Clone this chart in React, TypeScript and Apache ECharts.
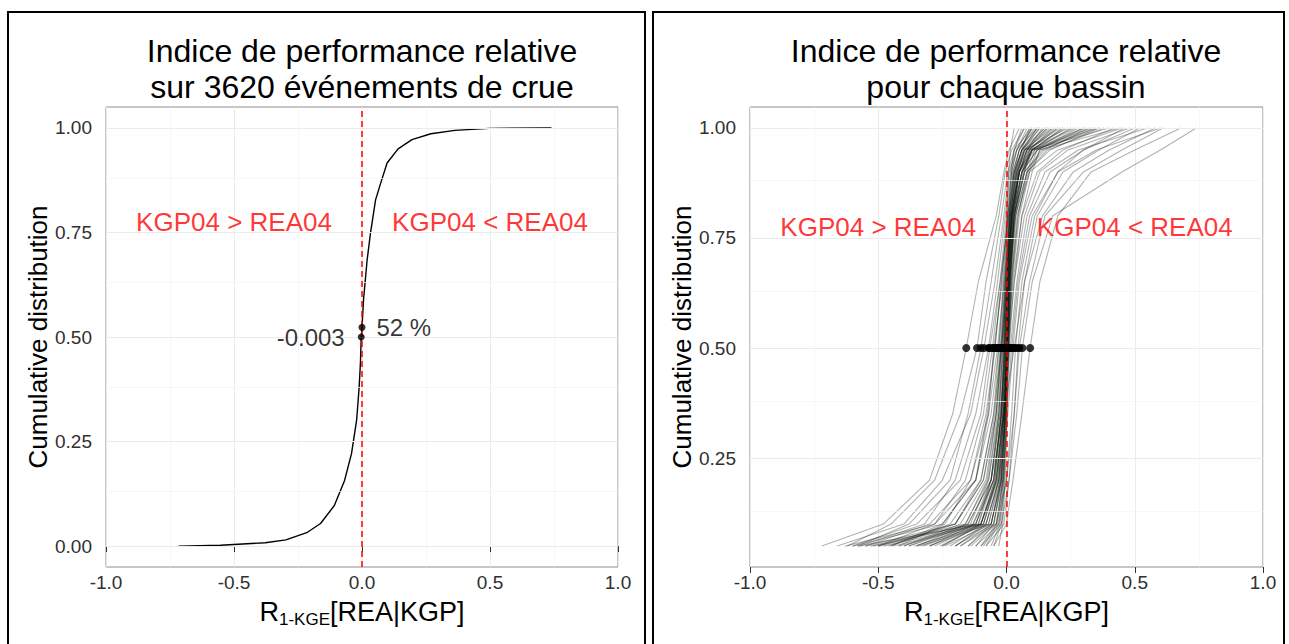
import React, { useEffect, useRef } from "react";
import * as echarts from "echarts";

const FONT = "'Liberation Sans', Arial, Helvetica, sans-serif";

// Titles and labels
const TITLE_LEFT = "Indice de performance relative\nsur 3620 événements de crue";
const TITLE_RIGHT = "Indice de performance relative\npour chaque bassin";
const Y_NAME = "Cumulative distribution";
const LABEL_LEFT_SIDE = "KGP04 > REA04";
const LABEL_RIGHT_SIDE = "KGP04 < REA04";

// Axis ticks
const LEFT_Y_TICKS = [0, 0.25, 0.5, 0.75, 1];
const RIGHT_Y_TICKS = [0.25, 0.5, 0.75, 1];
const Y_MINOR = [0.125, 0.375, 0.625, 0.875];

// Left panel: ECDF over all 3620 events
const ECDF_X = [-0.717, -0.553, -0.378, -0.297, -0.216, -0.162, -0.108, -0.068, -0.041, -0.021, -0.011, -0.006, -0.003, 0.0, 0.006, 0.02, 0.033, 0.053, 0.073, 0.098, 0.141, 0.195, 0.269, 0.363, 0.498, 0.74];
const ECDF_Y = [0.0, 0.002, 0.008, 0.015, 0.032, 0.054, 0.097, 0.157, 0.221, 0.301, 0.381, 0.44, 0.5, 0.523, 0.589, 0.684, 0.748, 0.828, 0.868, 0.916, 0.95, 0.972, 0.986, 0.994, 0.999, 1.0];
const MEDIAN_ALL = -0.003;
const SHARE_AT_ZERO = 0.523;

// Right panel: per-basin ECDFs, x values at these cumulative levels
const Y_LEVELS = [0.05, 0.1, 0.2, 0.35, 0.5, 0.65, 0.8, 0.9, 0.95, 1.0];
const BASINS: number[][] = [
  [-0.12, -0.05, -0.02, -0.008, 0.0, 0.008, 0.02, 0.04, 0.07, 0.15],
  [-0.2, -0.07, -0.03, -0.012, -0.003, 0.005, 0.015, 0.03, 0.06, 0.12],
  [-0.08, -0.03, -0.012, -0.004, 0.002, 0.01, 0.025, 0.05, 0.09, 0.2],
  [-0.3, -0.1, -0.04, -0.015, -0.006, 0.003, 0.012, 0.025, 0.05, 0.1],
  [-0.05, -0.02, -0.008, 0.0, 0.006, 0.014, 0.03, 0.06, 0.12, 0.28],
  [-0.15, -0.06, -0.025, -0.01, 0.001, 0.012, 0.03, 0.07, 0.14, 0.34],
  [-0.25, -0.09, -0.035, -0.015, -0.004, 0.006, 0.02, 0.045, 0.1, 0.22],
  [-0.1, -0.04, -0.015, -0.005, 0.004, 0.015, 0.035, 0.08, 0.16, 0.38],
  [-0.35, -0.12, -0.05, -0.02, -0.008, 0.002, 0.015, 0.035, 0.07, 0.16],
  [-0.06, -0.025, -0.01, -0.002, 0.003, 0.009, 0.018, 0.035, 0.06, 0.09],
  [-0.18, -0.06, -0.02, -0.006, 0.002, 0.01, 0.022, 0.05, 0.11, 0.25],
  [-0.4, -0.15, -0.06, -0.025, -0.01, 0.0, 0.01, 0.03, 0.06, 0.13],
  [-0.03, -0.015, -0.005, 0.002, 0.008, 0.018, 0.04, 0.09, 0.2, 0.45],
  [-0.22, -0.08, -0.03, -0.01, 0.0, 0.01, 0.025, 0.06, 0.12, 0.3],
  [-0.45, -0.22, -0.1, -0.05, -0.02, 0.005, 0.03, 0.07, 0.15, 0.32],
  [-0.55, -0.3, -0.14, -0.07, -0.035, -0.01, 0.015, 0.05, 0.1, 0.22],
  [-0.3, -0.12, -0.06, -0.025, 0.0, 0.025, 0.06, 0.12, 0.22, 0.42],
  [-0.6, -0.35, -0.18, -0.1, -0.065, -0.025, 0.01, 0.03, 0.06, 0.12],
  [-0.25, -0.1, -0.04, -0.01, 0.015, 0.04, 0.08, 0.15, 0.28, 0.55],
  [-0.5, -0.2, -0.09, -0.045, -0.025, -0.005, 0.02, 0.05, 0.09, 0.18],
  [-0.38, -0.16, -0.07, -0.03, -0.012, 0.008, 0.035, 0.08, 0.17, 0.36],
  [-0.15, -0.05, -0.015, 0.005, 0.025, 0.05, 0.1, 0.2, 0.35, 0.6],
  [-0.63, -0.28, -0.12, -0.06, -0.03, -0.008, 0.012, 0.04, 0.08, 0.16],
  [-0.2, -0.08, -0.03, 0.0, 0.02, 0.045, 0.09, 0.17, 0.3, 0.5],
  [-0.45, -0.25, -0.12, -0.07, -0.05, -0.015, 0.005, 0.02, 0.04, 0.08],
  [-0.33, -0.13, -0.05, -0.02, 0.005, 0.03, 0.07, 0.13, 0.24, 0.48],
  [-0.72, -0.48, -0.3, -0.21, -0.157, -0.11, -0.04, -0.01, 0.01, 0.05],
  [-0.62, -0.45, -0.28, -0.18, -0.115, -0.08, -0.03, -0.005, 0.02, 0.07],
  [-0.58, -0.38, -0.22, -0.15, -0.1, -0.06, -0.02, 0.005, 0.03, 0.1],
  [-0.66, -0.4, -0.25, -0.14, -0.088, -0.045, -0.01, 0.01, 0.04, 0.12],
  [-0.1, -0.02, 0.01, 0.04, 0.062, 0.1, 0.18, 0.45, 0.6, 0.74],
  [-0.05, 0.0, 0.025, 0.06, 0.092, 0.13, 0.2, 0.33, 0.5, 0.68],
  [-0.12, -0.03, 0.0, 0.03, 0.05, 0.09, 0.15, 0.3, 0.45, 0.61],
  [-0.35, -0.15, -0.06, -0.01, 0.03, 0.07, 0.14, 0.26, 0.4, 0.58],
  [-0.28, -0.1, -0.045, -0.02, -0.01, -0.004, 0.002, 0.008, 0.015, 0.03],
  [-0.09, -0.035, -0.015, -0.006, -0.001, 0.004, 0.01, 0.018, 0.03, 0.06],
  [-0.52, -0.12, -0.05, -0.02, -0.006, 0.006, 0.025, 0.06, 0.1, 0.3],
  [-0.42, -0.09, -0.04, -0.015, -0.002, 0.01, 0.03, 0.07, 0.09, 0.26],
  [-0.58, -0.11, -0.06, -0.03, -0.015, 0.0, 0.02, 0.05, 0.08, 0.2],
  [-0.36, -0.08, -0.03, -0.01, 0.004, 0.018, 0.045, 0.08, 0.11, 0.35],
  [-0.48, -0.1, -0.045, -0.02, -0.008, 0.004, 0.02, 0.045, 0.07, 0.24],
  [-0.3, -0.07, -0.025, -0.008, 0.003, 0.014, 0.035, 0.07, 0.1, 0.4],
  [-0.55, -0.2, -0.1, -0.05, -0.03, -0.012, 0.008, 0.035, 0.06, 0.15],
  [-0.4, -0.18, -0.08, -0.04, -0.02, 0.0, 0.02, 0.05, 0.085, 0.19],
  [-0.26, -0.09, -0.04, -0.012, 0.01, 0.03, 0.06, 0.1, 0.13, 0.44],
  [-0.6, -0.25, -0.12, -0.075, -0.045, -0.02, 0.004, 0.03, 0.05, 0.1],
  [-0.5, -0.14, -0.07, -0.035, -0.018, -0.004, 0.015, 0.04, 0.075, 0.17],
  [-0.34, -0.06, -0.02, -0.004, 0.006, 0.016, 0.03, 0.06, 0.095, 0.27],
  [-0.44, -0.1, -0.035, -0.012, 0.0, 0.012, 0.03, 0.065, 0.1, 0.33],
  [-0.2, -0.05, -0.02, -0.006, 0.004, 0.012, 0.028, 0.05, 0.08, 0.14],
  [-0.38, -0.13, -0.06, -0.03, -0.015, 0.002, 0.02, 0.045, 0.07, 0.18],
  [-0.14, -0.04, -0.012, 0.0, 0.01, 0.022, 0.05, 0.09, 0.13, 0.36],
  [-0.46, -0.2, -0.09, -0.04, -0.02, -0.002, 0.022, 0.06, 0.1, 0.23],
  [-0.32, -0.11, -0.05, -0.022, -0.007, 0.006, 0.024, 0.05, 0.08, 0.21],
  [-0.53, -0.16, -0.075, -0.04, -0.022, -0.006, 0.014, 0.04, 0.065, 0.13],
  [-0.24, -0.06, -0.022, -0.005, 0.007, 0.02, 0.045, 0.085, 0.12, 0.31],
  [-0.57, -0.32, -0.2, -0.12, -0.07, -0.035, -0.005, 0.015, 0.03, 0.07],
  [-0.5, -0.28, -0.16, -0.09, -0.055, -0.025, 0.0, 0.02, 0.04, 0.09],
  [-0.42, -0.24, -0.14, -0.08, -0.045, -0.02, 0.005, 0.025, 0.05, 0.11],
  [-0.08, -0.01, 0.01, 0.03, 0.045, 0.07, 0.12, 0.22, 0.36, 0.52],
  [-0.18, -0.04, 0.0, 0.02, 0.035, 0.06, 0.11, 0.2, 0.3, 0.46],
];
const MEDIAN_LEVEL = 0.5;

const TEXT_COLOR = "#303030";

function makeXAxis(gridIndex: number) {
  return {
    type: "value",
    gridIndex,
    min: -1,
    max: 1,
    interval: 0.5,
    axisLine: { show: false },
    axisTick: { show: true, length: 6, lineStyle: { color: TEXT_COLOR, width: 1 } },
    axisLabel: {
      show: true,
      margin: 6,
      color: TEXT_COLOR,
      fontSize: 19,
      fontFamily: FONT,
      formatter: (v: number) => v.toFixed(1),
    },
    splitLine: { show: true, lineStyle: { color: "#ebebeb", width: 1 } },
    minorTick: { show: false, splitNumber: 2 },
    minorSplitLine: { show: true, lineStyle: { color: "#f4f4f4", width: 0.7 } },
    name: "{m|R}{s|1-KGE}{m|[REA|KGP]}",
    nameLocation: "middle",
    nameGap: 28,
    nameTextStyle: {
      rich: {
        m: { fontSize: 27, fontFamily: FONT, color: "#000", lineHeight: 31, verticalAlign: "middle" },
        s: { fontSize: 17, fontFamily: FONT, color: "#000", lineHeight: 17, padding: [14, 0, 0, 0], verticalAlign: "middle" },
      },
    },
  };
}

function makeYAxis(gridIndex: number, min: number, max: number, ticks: number[]) {
  return {
    type: "value",
    gridIndex,
    min,
    max,
    axisLine: { show: false },
    axisTick: { show: true, length: 6, customValues: ticks, lineStyle: { color: TEXT_COLOR, width: 1 } },
    axisLabel: {
      show: true,
      customValues: ticks,
      margin: 14,
      color: TEXT_COLOR,
      fontSize: 19,
      fontFamily: FONT,
      formatter: (v: number) => v.toFixed(2),
    },
    splitLine: { show: false },
    name: Y_NAME,
    nameLocation: "middle",
    nameRotate: 90,
    nameGap: 55,
    nameTextStyle: { fontSize: 26, fontFamily: FONT, color: "#000" },
  };
}

function gridLineSeries(idx: number, majors: number[]) {
  return {
    type: "line",
    xAxisIndex: idx,
    yAxisIndex: idx,
    data: [],
    z: 1,
    silent: true,
    markLine: {
      silent: true,
      symbol: ["none", "none"],
      label: { show: false },
      animation: false,
      data: [
        ...Y_MINOR.map((v) => ({ yAxis: v, lineStyle: { color: "#f4f4f4", width: 0.7, type: "solid" } })),
        ...majors.map((v) => ({ yAxis: v, lineStyle: { color: "#ebebeb", width: 1, type: "solid" } })),
      ],
    },
  };
}

function zeroLineSeries(idx: number) {
  return {
    type: "line",
    xAxisIndex: idx,
    yAxisIndex: idx,
    data: [],
    z: 4,
    silent: true,
    markLine: {
      silent: true,
      symbol: ["none", "none"],
      label: { show: false },
      animation: false,
      data: [{ xAxis: 0, lineStyle: { color: "#ff0000", width: 1.5, type: [6, 4] } }],
    },
  };
}

function sideLabelSeries(idx: number) {
  const lab = (fmt: string) => ({
    show: true,
    position: "inside",
    formatter: fmt,
    color: "#ff0000",
    fontSize: 26,
    fontFamily: FONT,
  });
  return {
    type: "scatter",
    xAxisIndex: idx,
    yAxisIndex: idx,
    symbolSize: 0,
    z: 6,
    silent: true,
    data: [
      { value: [-0.5, 0.775], label: lab(LABEL_LEFT_SIDE) },
      { value: [0.5, 0.775], label: lab(LABEL_RIGHT_SIDE) },
    ],
  };
}

export default function App() {
  const ref = useRef<HTMLDivElement>(null);

  useEffect(() => {
    if (!ref.current) return;
    const chart = echarts.init(ref.current, null, { renderer: "svg" });

    const ecdfData = ECDF_X.map((x, i) => [x, ECDF_Y[i]]);
    const medianIdx = Y_LEVELS.indexOf(MEDIAN_LEVEL);
    const basinSeries = BASINS.map((b) => ({
      type: "line",
      xAxisIndex: 1,
      yAxisIndex: 1,
      data: b.map((x, i) => [x, Y_LEVELS[i]]),
      showSymbol: false,
      symbol: "none",
      silent: true,
      z: 2,
      lineStyle: { color: "rgba(10, 20, 10, 0.32)", width: 1.1 },
    }));
    const medianDots = BASINS.map((b) => [b[medianIdx], MEDIAN_LEVEL]);

    const option: any = {
      animation: false,
      backgroundColor: "#ffffff",
      grid: [
        { left: 106, right: 671, top: 107, bottom: 77, show: true, borderColor: "#8c8c8c", borderWidth: 1, backgroundColor: "#fff" },
        { left: 750, right: 26, top: 107, bottom: 77, show: true, borderColor: "#8c8c8c", borderWidth: 1, backgroundColor: "#fff" },
      ],
      xAxis: [makeXAxis(0), makeXAxis(1)],
      yAxis: [makeYAxis(0, -0.05, 1.05, LEFT_Y_TICKS), makeYAxis(1, 0.0025, 1.0475, RIGHT_Y_TICKS)],
      graphic: [
        { type: "rect", shape: { x: 8, y: 12, width: 637, height: 660 }, style: { fill: "none", stroke: "#000", lineWidth: 2 }, z: 100 },
        { type: "rect", shape: { x: 653, y: 12, width: 631, height: 660 }, style: { fill: "none", stroke: "#000", lineWidth: 2 }, z: 100 },
        { type: "text", x: 362, y: 33, style: { text: TITLE_LEFT, textAlign: "center", textVerticalAlign: "top", fontSize: 32, lineHeight: 36, fontFamily: FONT, fill: "#000" }, z: 100 },
        { type: "text", x: 1006, y: 33, style: { text: TITLE_RIGHT, textAlign: "center", textVerticalAlign: "top", fontSize: 32, lineHeight: 36, fontFamily: FONT, fill: "#000" }, z: 100 },
      ],
      series: [
        gridLineSeries(0, LEFT_Y_TICKS),
        gridLineSeries(1, RIGHT_Y_TICKS),
        {
          type: "line",
          xAxisIndex: 0,
          yAxisIndex: 0,
          data: ecdfData,
          showSymbol: false,
          symbol: "none",
          silent: true,
          z: 2,
          lineStyle: { color: "#000", width: 1.4 },
        },
        ...basinSeries,
        zeroLineSeries(0),
        zeroLineSeries(1),
        {
          type: "scatter",
          xAxisIndex: 0,
          yAxisIndex: 0,
          symbolSize: 7,
          z: 5,
          silent: true,
          itemStyle: { color: "#000" },
          data: [
            {
              value: [MEDIAN_ALL, 0.5],
              label: { show: true, position: "left", distance: 13, formatter: MEDIAN_ALL.toFixed(3), color: "#000", fontSize: 24, fontFamily: FONT },
            },
            {
              value: [0, SHARE_AT_ZERO],
              label: { show: true, position: "right", distance: 11, formatter: "52 %", color: "#000", fontSize: 24, fontFamily: FONT },
            },
          ],
        },
        {
          type: "scatter",
          xAxisIndex: 1,
          yAxisIndex: 1,
          symbolSize: 8,
          z: 5,
          silent: true,
          itemStyle: { color: "#000" },
          data: medianDots,
        },
        sideLabelSeries(0),
        sideLabelSeries(1),
      ],
    };

    chart.setOption(option);
    return () => chart.dispose();
  }, []);

  return (
    <div
      ref={ref}
      style={{ position: "absolute", left: 0, top: 0, width: 1289, height: 644, background: "#fff" }}
    />
  );
}
